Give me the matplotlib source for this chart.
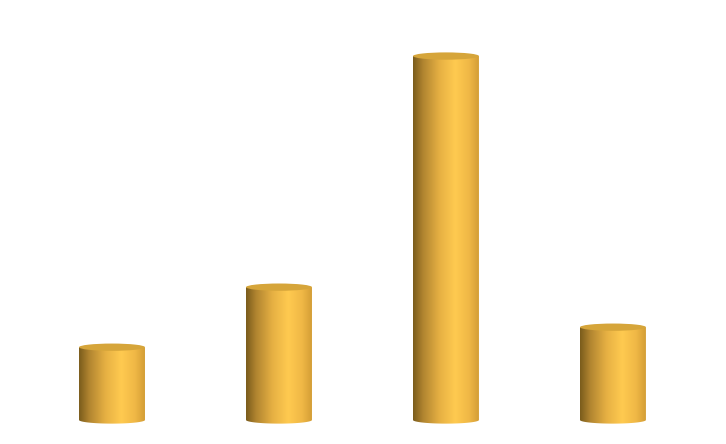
import numpy as np
import matplotlib
matplotlib.use("Agg")
import matplotlib.pyplot as plt
from matplotlib.patches import Ellipse, PathPatch
from matplotlib.path import Path
from matplotlib.colors import LinearSegmentedColormap

categories = ["A", "B", "C", "D"]
values = [20, 36.5, 100, 25.5]

fig = plt.figure(figsize=(7.26, 4.44), dpi=100)
ax = fig.add_axes([0, 0, 1, 1])
ax.set_xlim(-0.6707, 3.677)
ax.set_ylim(-6.6, 115.4)
ax.axis("off")

cmap = LinearSegmentedColormap.from_list(
    "gold", [(0.0, "#7a5c1c"), (0.15, "#b08430"), (0.4, "#e6b043"),
             (0.64, "#ffca50"), (0.85, "#f0b846"), (1.0, "#d49e36")])
grad = np.linspace(0, 1, 256).reshape(1, -1)

w = 0.395
eh = 2.0  # ellipse height in data units
for i, v in enumerate(values):
    x0, x1 = i - w / 2, i + w / 2
    t = np.linspace(np.pi, 2 * np.pi, 40)
    bx = i + (w / 2) * np.cos(t)
    by = 0 + (eh / 2) * np.sin(t)
    verts = [(x0, v)] + list(zip(bx, by)) + [(x1, v), (x0, v)]
    codes = [Path.MOVETO] + [Path.LINETO] * (len(verts) - 2) + [Path.CLOSEPOLY]
    path = Path(verts, codes)
    patch = PathPatch(path, facecolor="none", edgecolor="none")
    ax.add_patch(patch)
    im = ax.imshow(grad, cmap=cmap, aspect="auto",
                   extent=[x0, x1, -eh, v], interpolation="bilinear", zorder=2)
    im.set_clip_path(patch)
    top = Ellipse((i, v), w, eh, facecolor="#d6a53a", edgecolor="none", zorder=3)
    ax.add_patch(top)

fig.savefig("out.png", dpi=100, facecolor="white")
